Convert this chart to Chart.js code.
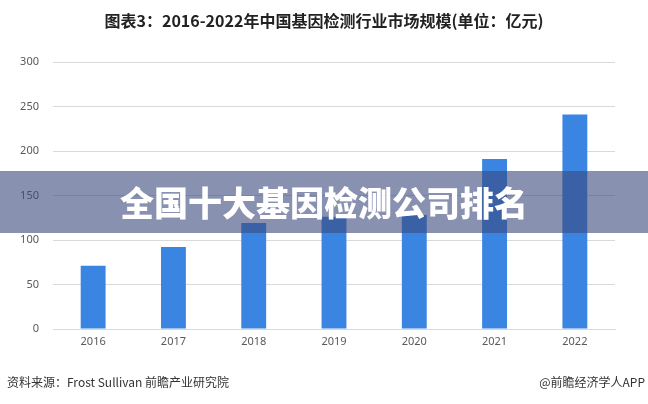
<!DOCTYPE html>
<html lang="zh">
<head>
<meta charset="UTF-8" />
<title>基因检测市场规模</title>
<script src="https://cdn.jsdelivr.net/npm/chart.js@4/dist/chart.umd.min.js"></script>
<style>
  html, body { margin: 0; padding: 0; background: #fff; }
  #wrap { position: relative; width: 648px; height: 404px; overflow: hidden; font-family: "Noto Sans CJK SC", "Noto Sans", sans-serif; }
  #myChart { position: absolute; left: 0; top: 0; }
  .title { position: absolute; left: 0; width: 648px; top: 9px; text-align: center; font-size: 16px; font-weight: bold; color: #222; line-height: 22px; }
  .banner { position: absolute; left: 0; width: 648px; top: 171px; height: 62px; background: rgba(58, 72, 125, 0.6);
    color: #fff; font-size: 34px; font-weight: 900; text-align: center; line-height: 62px; }
  .src { position: absolute; top: 373px; font-size: 12px; color: #333; line-height: 18px; }
</style>
</head>
<body>
<div id="wrap">
  <canvas id="myChart" width="648" height="404"></canvas>
  <div class="title">图表3：2016-2022年中国基因检测行业市场规模(单位：亿元)</div>
  <div class="banner">全国十大基因检测公司排名</div>
  <div class="src" style="left:7px">资料来源：Frost Sullivan 前瞻产业研究院</div>
  <div class="src" style="right:3px">@前瞻经济学人APP</div>
</div>
<script>
  // data
  var years = ["2016", "2017", "2018", "2019", "2020", "2021", "2022"];
  var market_size = [71, 92, 119, 126, 128, 191, 241];
  var y_ticks = [0, 50, 100, 150, 200, 250, 300];

  var data = {
    labels: years,
    datasets: [
      {
        label: "市场规模",
        data: market_size,
        backgroundColor: "#3a85e2",
        barPercentage: 0.62,
        categoryPercentage: 0.5,
      },
    ],
  };

  var config = {
    type: "bar",
    data: data,
    options: {
      responsive: false,
      animation: false,
      layout: { padding: { left: 0, right: 33, top: 62, bottom: 45 } },
      plugins: { legend: { display: false }, tooltip: { enabled: false } },
      scales: {
        x: {
          grid: { display: false, drawTicks: false },
          border: { color: "#d9d9d9" },
          ticks: { color: "#595959", font: { size: 11, family: "Noto Sans" }, padding: 6 },
          afterFit: function (s) { s.height = 30; },
        },
        y: {
          min: 0,
          max: 300,
          afterBuildTicks: function (s) { s.ticks = y_ticks.map(function (v) { return { value: v }; }); },
          grid: { color: "#d9d9d9", drawTicks: false },
          border: { display: false },
          ticks: { color: "#595959", font: { size: 11, family: "Noto Sans" }, padding: 14 },
          afterFit: function (s) { s.width = 53; },
        },
      },
    },
  };

  var myChart = new Chart(document.getElementById("myChart"), config);
</script>
</body>
</html>
